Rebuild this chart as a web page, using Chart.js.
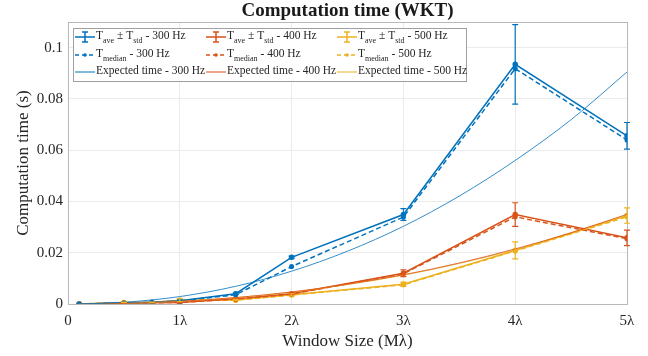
<script src="https://cdn.jsdelivr.net/npm/chart.js"></script>
<style>
    body {
        margin: 0;
        padding: 0;
        background-color: #ffffff;
    }
    canvas {
        display: block;
    }
</style>

<canvas id="timeChart" width="648" height="356"></canvas>

<script>
    // window sizes (in multiples of lambda) where the timings were taken
    const windowSizes = [0.1, 0.5, 0.75, 1, 1.5, 2, 3, 4, 5];

    const ave300 = [0, 0.0004, 0.0007, 0.0013, 0.0040, 0.0182, 0.0349, 0.0935, 0.0656];
    const std300 = [0, 0.0001, 0.0001, 0.0002, 0.0003, 0.0005, 0.0023, 0.0155, 0.0052];
    const med300 = [0, 0.0004, 0.0006, 0.0012, 0.0036, 0.0146, 0.0339, 0.0918, 0.0640];

    const ave400 = [0, 0.0003, 0.0005, 0.0006, 0.0020, 0.0040, 0.0120, 0.0349, 0.0258];
    const std400 = [0, 0.0001, 0.0001, 0.0001, 0.0002, 0.0004, 0.0013, 0.0046, 0.0030];
    const med400 = [0, 0.0003, 0.0005, 0.0006, 0.0019, 0.0039, 0.0118, 0.0340, 0.0255];

    const ave500 = [0, 0.0006, 0.0006, 0.0015, 0.0016, 0.0036, 0.0077, 0.0209, 0.0345];
    const std500 = [0, 0.0001, 0.0001, 0.0006, 0.0002, 0.0004, 0.0008, 0.0033, 0.0030];
    const med500 = [0, 0.0006, 0.0006, 0.0014, 0.0015, 0.0035, 0.0075, 0.0207, 0.0340];

    // expected (model) time curves
    const expectedX = [0.1, 0.5, 1, 1.5, 2, 2.5, 3, 3.5, 4, 4.5, 5];
    const expected300 = [0.00002, 0.00067, 0.0029, 0.0069, 0.0128, 0.0206, 0.0303, 0.0421, 0.0560, 0.0719, 0.0905];
    const expected400 = [0.00001, 0.00023, 0.00103, 0.0025, 0.0047, 0.0077, 0.0114, 0.0160, 0.0215, 0.0278, 0.0350];
    const expected500 = [0.00001, 0.00022, 0.00101, 0.0025, 0.0046, 0.0076, 0.0112, 0.0158, 0.0212, 0.0274, 0.0345];

    const xTickLabels = ['0', '1λ', '2λ', '3λ', '4λ', '5λ'];
    const yTickValues = [0, 0.02, 0.04, 0.06, 0.08, 0.1];
    const yTickLabels = ['0', '0.02', '0.04', '0.06', '0.08', '0.1'];
    const freqLabels = ['300 Hz', '400 Hz', '500 Hz'];

    const BLUE = '#0072BD';
    const ORANGE = '#D95319';
    const YELLOW = '#EDB120';
    const SERIF = '"Liberation Serif", "Times New Roman", serif';

    const toPoints = (xs, ys) => xs.map((x, i) => ({ x: x, y: ys[i] }));

    function measured(label, ys, std, color) {
        return {
            label: label,
            data: toPoints(windowSizes, ys),
            std: std,
            borderColor: color,
            backgroundColor: color,
            borderWidth: 1.5,
            pointRadius: 2,
            pointHoverRadius: 2,
            tension: 0
        };
    }

    function median(label, ys, color) {
        return {
            label: label,
            data: toPoints(windowSizes, ys),
            borderColor: color,
            backgroundColor: color,
            borderWidth: 1.5,
            borderDash: [5, 3],
            pointRadius: 1.8,
            pointHoverRadius: 1.8,
            tension: 0
        };
    }

    function expected(label, ys, color) {
        return {
            label: label,
            data: toPoints(expectedX, ys),
            borderColor: color + 'cc',
            backgroundColor: color,
            borderWidth: 1,
            pointRadius: 0,
            cubicInterpolationMode: 'monotone'
        };
    }

    // vertical error bars with caps, for datasets carrying a std array
    const errorBars = {
        id: 'errorBars',
        afterDatasetsDraw(chart) {
            const ctx = chart.ctx;
            const xs = chart.scales.x, ys = chart.scales.y;
            chart.data.datasets.forEach(ds => {
                if (!ds.std) return;
                ctx.save();
                ctx.strokeStyle = ds.borderColor;
                ctx.lineWidth = 1.2;
                ds.data.forEach((p, i) => {
                    const s = ds.std[i];
                    if (!s) return;
                    const px = xs.getPixelForValue(p.x);
                    const top = ys.getPixelForValue(p.y + s);
                    const bot = ys.getPixelForValue(p.y - s);
                    ctx.beginPath();
                    ctx.moveTo(px, top); ctx.lineTo(px, bot);
                    ctx.moveTo(px - 3, top); ctx.lineTo(px + 3, top);
                    ctx.moveTo(px - 3, bot); ctx.lineTo(px + 3, bot);
                    ctx.stroke();
                });
                ctx.restore();
            });
        }
    };

    // axes box and title
    const frame = {
        id: 'frame',
        beforeDatasetsDraw(chart) {
            const { ctx, chartArea: a } = chart;
            ctx.save();
            ctx.strokeStyle = '#b8b8b8';
            ctx.lineWidth = 1;
            ctx.strokeRect(a.left + 0.5, a.top + 0.5, a.right - a.left, a.bottom - a.top);
            ctx.restore();
        },
        afterDraw(chart) {
            const { ctx, chartArea: a } = chart;
            ctx.save();
            ctx.fillStyle = '#1a1a1a';
            ctx.font = 'bold 19px ' + SERIF;
            ctx.textAlign = 'center';
            ctx.textBaseline = 'middle';
            ctx.fillText('Computation time (WKT)', (a.left + a.right) / 2, 11);
            ctx.restore();
        }
    };

    // three-column legend with subscripted labels
    const matlabLegend = {
        id: 'matlabLegend',
        afterDatasetsDraw(chart) {
            const ctx = chart.ctx;
            const box = { x: 73, y: 28, w: 393, h: 53 };
            const colX = [75, 206, 337];
            const rowY = [37, 55, 72];
            const colors = [BLUE, ORANGE, YELLOW];
            ctx.save();
            ctx.fillStyle = '#ffffff';
            ctx.fillRect(box.x, box.y, box.w, box.h);
            ctx.strokeStyle = '#a0a0a0';
            ctx.lineWidth = 1;
            ctx.strokeRect(box.x + 0.5, box.y + 0.5, box.w, box.h);

            const big = '11.5px ' + SERIF, small = '8px ' + SERIF;
            const runs = (x, y, parts) => {
                ctx.fillStyle = '#262626';
                ctx.textBaseline = 'middle';
                ctx.textAlign = 'left';
                parts.forEach(([txt, sub]) => {
                    ctx.font = sub ? small : big;
                    ctx.fillText(txt, x, sub ? y + 5 : y);
                    x += ctx.measureText(txt).width;
                });
            };

            colors.forEach((c, k) => {
                const x0 = colX[k], x1 = x0 + 20, xm = x0 + 10;
                ctx.strokeStyle = c;
                ctx.fillStyle = c;

                // averaged with std bars
                let y = rowY[0];
                ctx.lineWidth = 1.5;
                ctx.setLineDash([]);
                ctx.beginPath();
                ctx.moveTo(x0, y); ctx.lineTo(x1, y);
                ctx.moveTo(xm, y - 5); ctx.lineTo(xm, y + 5);
                ctx.moveTo(xm - 3, y - 5); ctx.lineTo(xm + 3, y - 5);
                ctx.moveTo(xm - 3, y + 5); ctx.lineTo(xm + 3, y + 5);
                ctx.stroke();
                runs(x1 + 1, y - 1, [['T'], ['ave', true], [' ± T'], ['std', true], [' - ' + freqLabels[k]]]);

                // median
                y = rowY[1];
                ctx.strokeStyle = c;
                ctx.fillStyle = c;
                ctx.setLineDash([4, 3]);
                ctx.beginPath();
                ctx.moveTo(x0, y); ctx.lineTo(x1, y);
                ctx.stroke();
                ctx.setLineDash([]);
                ctx.beginPath();
                ctx.arc(xm, y, 1.8, 0, Math.PI * 2);
                ctx.fill();
                runs(x1 + 1, y - 1, [['T'], ['median', true], [' - ' + freqLabels[k]]]);

                // expected
                y = rowY[2];
                ctx.strokeStyle = c;
                ctx.lineWidth = 1;
                ctx.beginPath();
                ctx.moveTo(x0, y); ctx.lineTo(x1, y);
                ctx.stroke();
                runs(x1 + 1, y - 1, [['Expected time - ' + freqLabels[k]]]);
            });
            ctx.restore();
        }
    };

    new Chart(document.getElementById('timeChart').getContext('2d'), {
        type: 'line',
        data: {
            datasets: [
                expected('Expected time - 300 Hz', expected300, BLUE),
                expected('Expected time - 400 Hz', expected400, ORANGE),
                expected('Expected time - 500 Hz', expected500, YELLOW),
                median('T_median - 300 Hz', med300, BLUE),
                median('T_median - 400 Hz', med400, ORANGE),
                median('T_median - 500 Hz', med500, YELLOW),
                measured('T_ave ± T_std - 300 Hz', ave300, std300, BLUE),
                measured('T_ave ± T_std - 400 Hz', ave400, std400, ORANGE),
                measured('T_ave ± T_std - 500 Hz', ave500, std500, YELLOW)
            ]
        },
        options: {
            responsive: false,
            animation: false,
            layout: { padding: { top: 22, right: 21, left: 0, bottom: 0 } },
            plugins: {
                legend: { display: false },
                title: { display: false },
                tooltip: { enabled: false }
            },
            scales: {
                x: {
                    type: 'linear',
                    min: 0,
                    max: 5,
                    afterFit(scale) { scale.height = 52; },
                    grid: { color: '#ebebeb', drawTicks: false },
                    border: { display: false },
                    ticks: {
                        stepSize: 1,
                        padding: 8,
                        color: '#262626',
                        font: { family: SERIF, size: 15 },
                        callback: v => xTickLabels[v]
                    },
                    title: {
                        display: true,
                        text: 'Window Size (Mλ)',
                        color: '#262626',
                        padding: { top: 0 },
                        font: { family: SERIF, size: 17 }
                    }
                },
                y: {
                    min: 0,
                    max: 0.11,
                    afterFit(scale) { scale.width = 68; },
                    afterBuildTicks(scale) {
                        scale.ticks = yTickValues.map(v => ({ value: v }));
                    },
                    grid: { color: '#ebebeb', drawTicks: false },
                    border: { display: false },
                    ticks: {
                        padding: 5,
                        color: '#262626',
                        font: { family: SERIF, size: 15 },
                        callback: (v, i) => yTickLabels[i]
                    },
                    title: {
                        display: true,
                        text: 'Computation time (s)',
                        color: '#262626',
                        padding: { top: 13, bottom: 0 },
                        font: { family: SERIF, size: 17 }
                    }
                }
            }
        },
        plugins: [frame, errorBars, matlabLegend]
    });
</script>
